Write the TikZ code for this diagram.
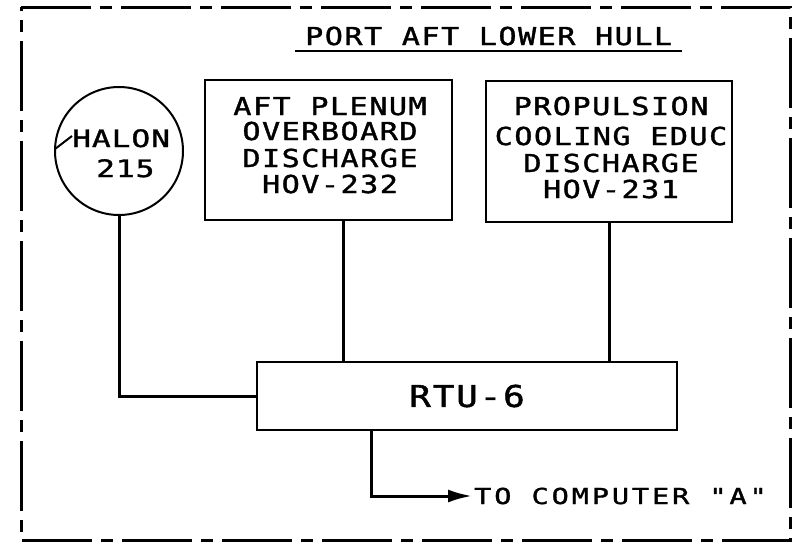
\documentclass[tikz,border=0pt]{standalone}
\usepackage{fontspec}
\usetikzlibrary{arrows.meta,calc}
\newfontfamily\plotfont[FakeStretch=1.22,LetterSpace=6,FakeBold=1.5]{DejaVu Sans Mono}
\newfontfamily\halonfont[FakeStretch=1.3,LetterSpace=4,FakeBold=1.5]{DejaVu Sans Mono}
\newfontfamily\rtufont[FakeStretch=1.2,LetterSpace=6,FakeBold=1.5]{DejaVu Sans Mono}
\newfontfamily\tofont[FakeStretch=1.3,LetterSpace=13,FakeBold=1.5]{DejaVu Sans Mono}
\begin{document}
\begin{tikzpicture}[x=1pt,y=-1pt,
  txt/.style={inner sep=0pt, font=\plotfont\fontsize{24.7}{26}\selectfont},
  halontxt/.style={inner sep=0pt, font=\halonfont\fontsize{24}{26}\selectfont},
  totxt/.style={inner sep=0pt, font=\tofont\fontsize{22}{24}\selectfont},
  box/.style={draw, line width=2pt, inner sep=0pt},
  conn/.style={line width=3pt},
  frame/.style={line width=3pt, dash pattern=on 70pt off 9pt on 12pt off 9pt}]
\useasboundingbox (0,0) rectangle (792,544);
\fill[white] (0,0) rectangle (792,544);
% dashed frame
\draw[frame] (21,7) -- (790,7) -- (790,540) -- (21,540) -- cycle;
% title
\node[txt, anchor=base west] (title) at (305,45) {PORT AFT LOWER HULL};
\draw[line width=2.5pt] (295,51) -- (682,51);
% halon circle
\node[circle, draw, line width=2pt, minimum size=128pt, inner sep=0pt] (halon) at (119,151) {};
\node[halontxt, anchor=base west] (h1) at (72,147) {HALON};
\node[halontxt, anchor=base west] (h2) at (96,177) {215};
\draw[line width=2pt] (55,149) -- (72,136);
% box 1
\node[box, minimum width=247pt, minimum height=140pt] (b1) at (328.5,150) {};
\node[txt, anchor=base] (b1a) at (330,115) {AFT PLENUM};
\node[txt, anchor=base] (b1b) at (330,140) {OVERBOARD};
\node[txt, anchor=base] (b1c) at (330,167) {DISCHARGE};
\node[txt, anchor=base] (b1d) at (330,193) {HOV-232};
% box 2
\node[box, minimum width=246pt, minimum height=141pt] (b2) at (609,151.5) {};
\node[txt, anchor=base] (b2a) at (611,115) {PROPULSION};
\node[txt, anchor=base] (b2b) at (611,145) {COOLING EDUC};
\node[txt, anchor=base] (b2c) at (611,172) {DISCHARGE};
\node[txt, anchor=base] (b2d) at (611,198) {HOV-231};
% RTU
\node[box, minimum width=420pt, minimum height=68pt,
      font=\rtufont\fontsize{30}{32}\selectfont] (rtu) at (467,396) {RTU-6};
% destination
\node[totxt, anchor=base west] (tc) at (474,504) {TO COMPUTER "A"};
% connectors
\draw[conn] (halon) |- (rtu);
\draw[conn] ([xshift=14.5pt]b1.south) -- ([xshift=14.5pt]b1.south |- rtu.north);
\draw[conn] (b2.south) -- (b2.south |- rtu.north);
\draw[conn, -{Latex[length=24pt,width=13pt]}, shorten >=2pt]
  ([xshift=-96pt]rtu.south) |- (tc.west);
\end{tikzpicture}
\end{document}
